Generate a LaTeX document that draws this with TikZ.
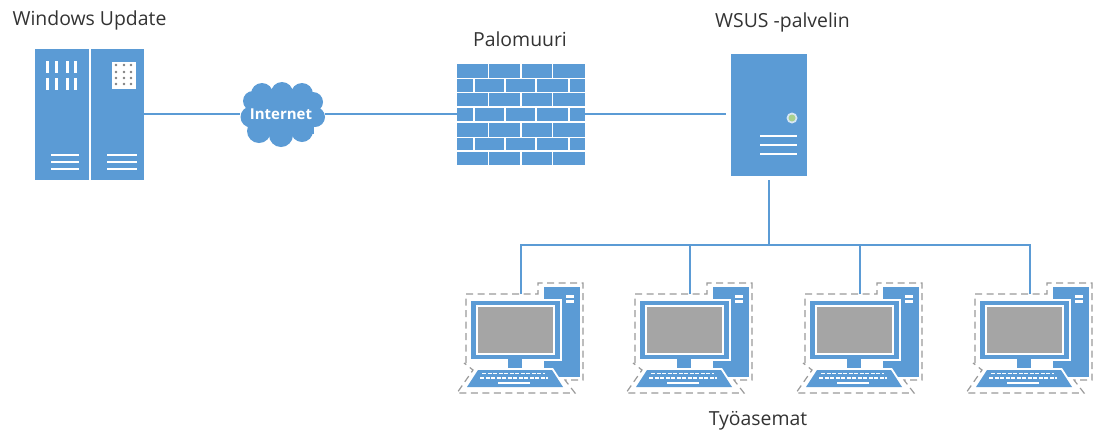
\documentclass[tikz,border=0pt]{standalone}
\usepackage{fontspec}
\setmainfont{Open Sans}
\definecolor{msblue}{HTML}{5B9BD5}
\definecolor{dashgray}{HTML}{9A9A9A}
\definecolor{screengray}{HTML}{A5A5A5}
\definecolor{ledgreen}{HTML}{A9D18E}
\definecolor{txt}{HTML}{333333}
\tikzset{
  px/.style={x=1pt,y=-1pt},
  bluebox/.style={fill=msblue,draw=none,rectangle,inner sep=0pt,outer sep=0pt},
  link/.style={draw=msblue,line width=1.2pt},
  caption/.style={font=\fontsize{19.4}{23}\selectfont,text=txt,inner sep=0pt},
  whitebar/.style={draw=white,line width=1.7pt},
  outline/.style={draw=dashgray,line width=1.2pt,dash pattern=on 7pt off 4.5pt},
}
\newcommand{\bx}[5][msblue]{\fill[#1] (#2,#3) rectangle (#4,#5);}
\newcommand{\workstation}[2]{%
  \begin{scope}[shift={(#1,0)}]
    \coordinate (#2) at (521,294);
    \draw[outline] (466,363) -- (466,294) -- (538,294) -- (538,283) -- (583,283) -- (583,380) -- (565,380) -- (575,393) -- (457,393) -- (473,370) -- (464,363);
    \bx{544}{287}{580}{377}
    \bx[white]{566}{295}{574}{298}
    \bx[white]{566}{300}{574}{303}
    \bx[white]{469}{299}{562}{361}
    \bx{471}{301}{560}{359}
    \bx[white]{476}{305}{555}{355}
    \bx[screengray]{478}{307}{553}{353}
    \bx[white]{506}{359}{524}{369}
    \bx{508}{359}{522}{369}
    \fill[white] (477,368) -- (553,368) -- (566,388) -- (464,388) -- cycle;
    \fill[msblue] (478,370) -- (552,370) -- (563,387) -- (467,387) -- cycle;
    \draw[white,line width=1.6pt,dash pattern=on 4pt off 1.5pt] (482,373.5) -- (545,373.5);
    \draw[white,line width=1.6pt,dash pattern=on 4pt off 1.5pt] (480,378) -- (548,378);
    \draw[white,line width=2pt] (498,383) -- (530,383);
  \end{scope}}
\begin{document}
\begin{tikzpicture}[px]
\useasboundingbox (0,0) rectangle (1099,432);
% Windows Update
\node[bluebox,minimum width=53.5pt,minimum height=131pt] (wuL) at (62,114.5) {};
\node[bluebox,minimum width=53.5pt,minimum height=131pt] (wuR) at (117.5,114.5) {};
\foreach \a in {46,55,66,74}{\foreach \b in {61,78}{\bx[white]{\a}{\b}{\a+3}{\b+12}}}
\foreach \b in {155,162,169}{\draw[whitebar] (51,\b) -- (79,\b); \draw[whitebar] (107,\b) -- (137,\b);}
\bx[white]{112}{62}{136}{89}
\foreach \a in {116,124,131}{\foreach \b in {65,72,78,84}{\fill[gray] (\a,\b) circle (1.4);}}
% Cloud
\node[rectangle,inner sep=0pt,outer sep=0pt,minimum width=85pt,minimum height=66pt] (net) at (282.5,114) {};
\foreach \a/\b/\r in {262/94/11,282/93/11,302/94/11,313/102/10,315/117/10,302/131/11,281/135/12,259/131/12,251/117/10.5,253/101/10}{\fill[msblue] (\a,\b) circle (\r);}
\bx{252}{93}{314}{134}
\node[font=\fontsize{15}{18}\selectfont\bfseries,text=white,inner sep=0pt] (netlabel) at (281,114) {Internet};
% Firewall
\coordinate (fwW) at (457,114);
\coordinate (fwE) at (585,114);
\foreach \t/\b in {64.3/77.7,93.3/106,123.3/136.7,151.7/165}{%
  \bx{457}{\t}{487.5}{\b}\bx{489}{\t}{520}{\b}\bx{521.5}{\t}{551.5}{\b}\bx{553}{\t}{584.5}{\b}}
\foreach \t/\b in {79.3/91.7,108/121,138/150}{%
  \bx{457}{\t}{472.5}{\b}\bx{474.5}{\t}{503.5}{\b}\bx{505.5}{\t}{535}{\b}\bx{537}{\t}{568}{\b}\bx{570}{\t}{584.5}{\b}}
% Server
\node[bluebox,minimum width=76pt,minimum height=122pt] (srv) at (769,115) {};
\fill[white!75!msblue] (792,118) circle (5.5);
\fill[ledgreen] (792,118) circle (3.5);
\foreach \b in {136,145,154}{\draw[whitebar] (760,\b) -- (797,\b);}
% Workstations
\workstation{0}{pc1}
\workstation{169}{pc2}
\workstation{339}{pc3}
\workstation{509}{pc4}
% Connectors
\coordinate (srvS) at (769,180);
\coordinate (bus) at (769,245);
\coordinate (srvW) at (726,114);
\draw[link] (wuR.east |- 0,114) -- (net.west);
\draw[link] (net.east) -- (fwW);
\draw[link] (fwE) -- (srvW);
\draw[link] (srvS) -- (bus);
\draw[link] (pc1) |- (bus);
\draw[link] (pc2) |- (bus);
\draw[link] (pc3) |- (bus);
\draw[link] (pc4) |- (bus);
% Labels
\node[caption] (lwu) at (89.5,20.5) {Windows Update};
\node[caption] (lfw) at (520,39) {Palomuuri};
\node[caption] (lsrv) at (782.5,22) {WSUS -palvelin};
\node[caption] (lws) at (758,421) {Työasemat};
\end{tikzpicture}
\end{document}
